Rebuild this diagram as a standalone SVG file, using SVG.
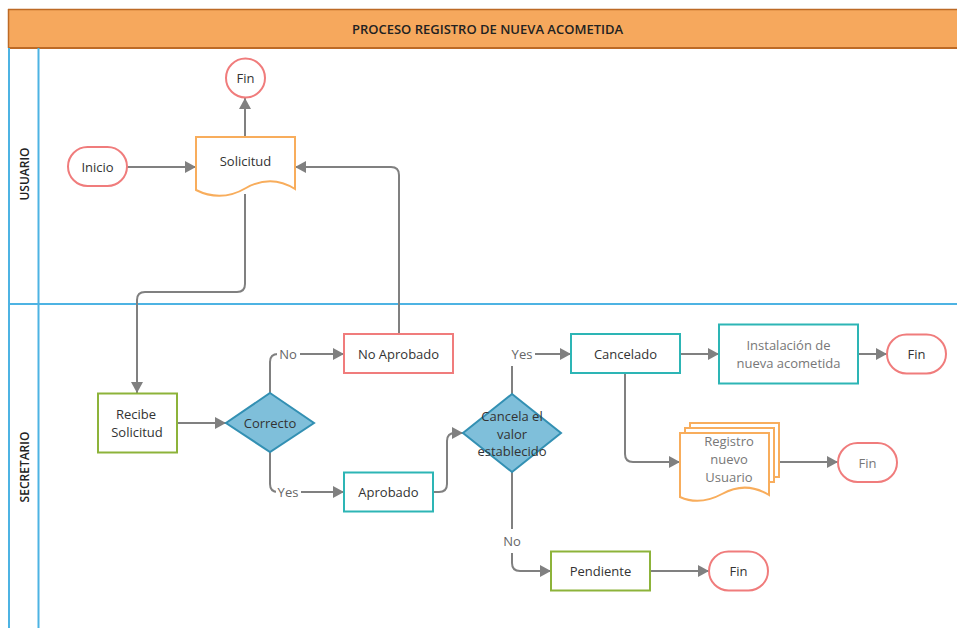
<svg xmlns="http://www.w3.org/2000/svg" width="957" height="628" viewBox="0 0 957 628">
  <style>
    text { font-family: "Open Sans", "Noto Sans", "Liberation Sans", sans-serif; font-size: 13px; fill: #333; text-anchor: middle; dominant-baseline: central; }
    .title { font-size: 13px; font-weight: 600; fill: #222; }
    .lane { font-size: 12px; font-weight: 600; fill: #222; }
    .muted { fill: #777; }
    .lbl { fill: #666; }
    .lanesep { stroke: #4DB3E3; stroke-width: 2; fill: none; }
    .term { fill: #fff; stroke: #F07C7C; stroke-width: 2; }
    .proc-teal { fill: #fff; stroke: #2DB5B5; stroke-width: 2; }
    .proc-green { fill: #fff; stroke: #8DB33A; stroke-width: 2; }
    .proc-red { fill: #fff; stroke: #F07C7C; stroke-width: 2; }
    .doc { fill: #fff; stroke: #F8AD5C; stroke-width: 2; }
    .dec { fill: #7FBFDA; stroke: #3390B3; stroke-width: 2; }
    .conn { fill: none; stroke: #808080; stroke-width: 2; }
    .lblbg { fill: #fff; }
  </style>
  <defs>
    <marker id="arrow" markerUnits="userSpaceOnUse" markerWidth="12" markerHeight="12" refX="11" refY="6" orient="auto">
      <path d="M0,0 L11,6 L0,12 Z" fill="#808080"/>
    </marker>
  </defs>

  <rect width="957" height="628" fill="#fff"/>

  <!-- pool header -->
  <g id="header">
    <rect x="8" y="9" width="955" height="39" fill="#F6A85D"/>
    <line x1="8" y1="9.5" x2="957" y2="9.5" stroke="#BD6A25" stroke-width="1.5"/>
    <line x1="8" y1="48" x2="957" y2="48" stroke="#BD6A25" stroke-width="2"/>
    <line x1="8.5" y1="9" x2="8.5" y2="48" stroke="#BD6A25" stroke-width="1.5"/>
    <text class="title" x="487.5" y="28.5">PROCESO REGISTRO DE NUEVA ACOMETIDA</text>
  </g>

  <!-- swimlanes -->
  <g id="lanes">
    <line class="lanesep" x1="9" y1="48" x2="9" y2="628"/>
    <line class="lanesep" x1="38.5" y1="48" x2="38.5" y2="628"/>
    <line class="lanesep" x1="9" y1="304" x2="957" y2="304"/>
    <text class="lane" transform="translate(24,174) rotate(-90)">USUARIO</text>
    <text class="lane" transform="translate(24,467) rotate(-90)">SECRETARIO</text>
  </g>

  <!-- connectors -->
  <g id="connectors">
    <path class="conn" d="M127,167 H196" marker-end="url(#arrow)"/>
    <path class="conn" d="M245,137 V98" marker-end="url(#arrow)"/>
    <path class="conn" d="M245,194 V284 Q245,292 237,292 H145 Q137,292 137,300 V393" marker-end="url(#arrow)"/>
    <path class="conn" d="M399,334 V175 Q399,167 391,167 H295" marker-end="url(#arrow)"/>
    <path class="conn" d="M177,423 H226" marker-end="url(#arrow)"/>
    <path class="conn" d="M270,393 V362 Q270,354 278,354 H344" marker-end="url(#arrow)"/>
    <path class="conn" d="M270,452 V484 Q270,492 278,492 H344" marker-end="url(#arrow)"/>
    <path class="conn" d="M433,492 H439 Q447,492 447,484 V441 Q447,433 455,433 H463" marker-end="url(#arrow)"/>
    <path class="conn" d="M512,394 V354 H571" marker-end="url(#arrow)"/>
    <path class="conn" d="M512,472 V563 Q512,571 520,571 H551" marker-end="url(#arrow)"/>
    <path class="conn" d="M680,354 H719" marker-end="url(#arrow)"/>
    <path class="conn" d="M858,354 H887" marker-end="url(#arrow)"/>
    <path class="conn" d="M625,373 V454 Q625,462 633,462 H680" marker-end="url(#arrow)"/>
    <path class="conn" d="M778,462 H838" marker-end="url(#arrow)"/>
    <path class="conn" d="M650,571 H709" marker-end="url(#arrow)"/>

    <!-- branch labels -->
    <rect class="lblbg" x="277" y="345" width="23" height="18"/>
    <text class="lbl" x="288" y="354">No</text>
    <rect class="lblbg" x="276" y="483" width="25" height="18"/>
    <text class="lbl" x="288" y="492">Yes</text>
    <rect class="lblbg" x="505" y="345" width="30" height="21"/>
    <text class="lbl" x="522" y="354">Yes</text>
    <rect class="lblbg" x="500" y="529" width="24" height="24"/>
    <text class="lbl" x="512" y="541">No</text>
  </g>

  <!-- nodes -->
  <g id="fin-top">
    <rect class="term" x="226" y="58.5" width="39" height="39" rx="19.5"/>
    <text x="245.5" y="78">Fin</text>
  </g>
  <g id="inicio">
    <rect class="term" x="68" y="147" width="59" height="39" rx="19.5"/>
    <text x="97.5" y="167">Inicio</text>
  </g>
  <g id="solicitud">
    <path class="doc" d="M196,137 H295 V189 C281,180 264,178 246,188 C229,198 212,198 196,190 Z"/>
    <text x="245.5" y="161">Solicitud</text>
  </g>
  <g id="no-aprobado">
    <rect class="proc-red" x="344" y="334" width="109" height="39"/>
    <text x="398.5" y="354">No Aprobado</text>
  </g>
  <g id="recibe-solicitud">
    <rect class="proc-green" x="98" y="393.5" width="79" height="59"/>
    <text x="136" y="414">Recibe</text>
    <text x="137" y="432">Solicitud</text>
  </g>
  <g id="correcto">
    <polygon class="dec" points="270,393 314,423 270,452 226,423"/>
    <text x="270" y="423">Correcto</text>
  </g>
  <g id="aprobado">
    <rect class="proc-teal" x="344" y="472.5" width="89" height="39"/>
    <text x="388.5" y="492">Aprobado</text>
  </g>
  <g id="cancela-valor">
    <polygon class="dec" points="512,394 561,433 512,472 463,433"/>
    <text x="512" y="416">Cancela el</text>
    <text x="512" y="434">valor</text>
    <text x="512" y="451">establecido</text>
  </g>
  <g id="cancelado">
    <rect class="proc-teal" x="571" y="334" width="109" height="39"/>
    <text x="625.5" y="354">Cancelado</text>
  </g>
  <g id="instalacion">
    <rect class="proc-teal" x="719" y="324.5" width="139" height="59"/>
    <text class="muted" x="788.5" y="345">Instalación de</text>
    <text class="muted" x="788.5" y="363">nueva acometida</text>
  </g>
  <g id="fin-instalacion">
    <rect class="term" x="887" y="334.5" width="59" height="39" rx="19.5"/>
    <text x="916.5" y="354">Fin</text>
  </g>
  <g id="registro-usuario">
    <rect class="doc" x="690" y="423" width="89" height="54"/>
    <rect class="doc" x="685" y="428" width="89" height="54"/>
    <path class="doc" d="M680,433 H769 V495 C756,487 740,484 722,494 C707,502 693,503 680,497 Z"/>
    <text class="muted" x="729" y="441">Registro</text>
    <text class="muted" x="729" y="459">nuevo</text>
    <text class="muted" x="729" y="477">Usuario</text>
  </g>
  <g id="fin-registro">
    <rect class="term" x="838" y="443" width="59" height="39" rx="19.5"/>
    <text class="muted" x="867.5" y="463">Fin</text>
  </g>
  <g id="pendiente">
    <rect class="proc-green" x="551" y="551.5" width="99" height="39"/>
    <text x="600.5" y="571">Pendiente</text>
  </g>
  <g id="fin-pendiente">
    <rect class="term" x="709" y="551.5" width="59" height="39" rx="19.5"/>
    <text x="738.5" y="571">Fin</text>
  </g>
</svg>
